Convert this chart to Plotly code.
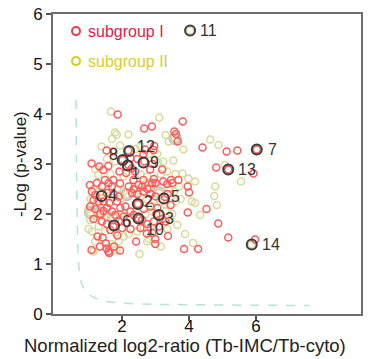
import plotly.graph_objects as go

# ---- data ----
sub1_x = [1.87,3.81,2.89,2.66,3.56,3.61,3.66,2.96,2.94,4.40,5.12,5.44,6.02,4.81,5.17,5.92,
          1.54,1.74,2.19,2.64,2.69,2.02,2.19,2.66,1.09,1.32,1.44,1.59,1.92,2.29,2.39,2.84,3.20,2.12,2.25,2.45,2.90,
          1.49,1.74,2.34,2.64,3.23,3.46,3.68,2.95,3.00,
          1.04,1.94,2.49,3.96,4.00,1.25,1.40,1.60,1.70,2.20,2.35,2.60,2.75,2.90,3.35,3.50,
          1.10,1.20,1.55,1.75,1.90,2.30,2.45,2.65,2.85,3.00,3.36,3.28,1.15,1.30,1.45,1.62,1.85,
          1.05,1.20,1.45,1.55,1.70,1.95,2.10,2.25,2.47,2.65,2.85,3.05,3.45,3.96,4.52,1.35,1.80,2.05,2.35,
          1.15,1.40,1.55,1.74,1.90,2.15,2.49,2.60,2.75,2.95,3.20,3.30,4.87,2.00,2.25,2.55,1.65,
          1.27,1.42,1.86,1.52,1.76,2.42,2.74,2.99,2.99,3.37,3.85,4.27,5.17,5.97,1.09,1.34,1.54,1.59,1.62,1.94,2.90,3.10,3.02]
sub1_y = [3.99,3.85,3.75,3.71,3.65,3.60,3.45,3.36,3.28,3.33,3.25,3.27,3.29,2.93,2.89,2.81,
          3.27,3.25,3.27,3.20,3.29,3.08,2.98,3.05,3.01,2.95,2.88,2.96,2.85,2.91,2.85,2.89,2.89,2.82,3.12,3.10,3.00,
          2.68,2.68,2.68,2.68,2.65,2.68,2.68,2.70,2.62,
          2.58,2.61,2.58,2.55,2.43,2.62,2.55,2.62,2.55,2.55,2.50,2.55,2.50,2.62,2.60,2.62,
          2.45,2.38,2.42,2.40,2.35,2.42,2.40,2.45,2.40,2.35,2.40,2.34,2.28,2.25,2.25,2.22,2.25,
          2.15,2.10,2.06,2.12,2.05,2.12,2.15,2.05,2.20,2.10,2.15,2.12,2.18,2.03,2.10,2.00,1.98,1.95,1.98,
          1.90,1.85,1.80,1.75,1.85,1.82,1.91,1.88,1.80,1.85,1.90,1.85,1.81,1.72,1.70,1.72,1.68,
          1.55,1.53,1.57,1.41,1.35,1.45,1.61,1.50,1.40,1.56,1.30,1.30,1.53,1.49,1.28,1.35,1.31,1.25,1.22,1.27,1.62,1.75,2.00]

sub2_x = [1.67,1.79,1.84,2.19,1.94,1.39,1.70,3.11,3.30,3.40,3.58,3.83,4.63,4.88,5.07,5.55,4.78,4.75,4.83,5.87,4.03,
          3.08,3.23,3.53,3.16,3.80,3.98,4.18,4.08,4.18,4.33,3.88,4.12,3.16,2.52,1.84,3.10,
          1.29,1.55,1.80,2.40,2.55,2.80,3.05,1.20,1.65,2.05,2.55,2.75,3.35,3.60,
          1.15,1.35,1.60,1.85,2.05,2.40,2.70,2.81,3.10,3.15,3.40,3.55,3.70,3.75,3.60,3.30,3.15,2.95,2.75,2.55,2.14,1.95,1.70,1.40,1.06,
          1.00,1.06,1.34,1.25,1.50,1.74,1.95,2.20,2.40,2.70,2.90,3.30,3.50,1.05,1.00,1.10,1.30,1.50,1.80,2.05,2.20,2.45,2.65,2.85,2.80,2.75,3.35,
          1.20,1.15,1.70,1.90,3.45,3.65]
sub2_y = [4.05,3.63,3.59,3.59,3.37,3.35,3.50,3.93,3.58,3.45,3.51,3.29,3.49,3.38,2.98,2.65,2.55,2.36,2.18,1.39,5.67,
          3.03,3.05,3.07,2.80,2.81,2.71,2.65,2.25,2.22,1.98,1.60,1.42,1.35,1.20,1.28,1.98,
          2.78,3.10,3.05,3.30,3.35,3.20,3.20,2.90,2.80,2.75,2.80,2.75,2.85,2.80,
          2.50,2.45,2.48,2.50,2.45,2.50,2.60,2.53,2.42,2.55,2.50,2.45,2.55,2.30,2.25,2.20,2.25,2.28,2.30,2.35,2.39,2.30,2.32,2.30,2.30,
          2.10,2.03,2.03,1.95,1.95,1.92,2.00,1.95,2.05,2.00,2.05,2.05,2.00,1.88,1.70,1.65,1.75,1.65,1.62,1.55,1.60,1.65,1.72,1.75,1.50,1.45,1.70,
          1.45,1.25,1.40,1.45,1.90,1.78]

# highlighted (grey halo) proteins
halo_x = [3.58, 2.81, 2.14, 3.10, 1.06, 1.34, 1.74]
halo_y = [3.51, 2.55, 2.39, 2.42, 2.03, 2.03, 1.92]

# numbered proteins
lab_ids = ["1", "2", "3", "4", "5", "6", "7", "8", "9", "10", "11", "12", "13", "14"]
lab_x = [2.17, 2.47, 3.10, 1.39, 3.25, 1.76, 6.02, 2.02, 2.64, 2.49, 4.03, 2.21, 5.17, 5.87]
lab_y = [2.97, 2.20, 1.98, 2.36, 2.31, 1.77, 3.29, 3.08, 3.03, 1.91, 5.67, 3.26, 2.89, 1.39]

# significance threshold curve
thr_x = [0.63, 0.64, 0.66, 0.69, 0.72, 0.80, 0.90, 1.04, 1.30, 1.55, 2.00, 2.50, 3.50, 5.00, 7.60]
thr_y = [4.28, 3.00, 2.00, 1.20, 0.90, 0.60, 0.47, 0.38, 0.29, 0.25, 0.22, 0.20, 0.19, 0.18, 0.17]

x_ticks = [2, 4, 6]
y_ticks = [0, 1, 2, 3, 4, 5, 6]

x_title = "Normalized log2-ratio (Tb-IMC/Tb-cyto)"
y_title = "-Log (p-value)"

RED = "#ff5a5a"
YEL = "#d9d99c"
DARK = "#3c3c3c"
FONT = "Liberation Sans, Arial, sans-serif"

# label offsets in pixels (style only)
lab_off = {"1": (8, -8), "2": (11, 3), "3": (11, -3), "4": (11, 1), "5": (12, 2), "6": (12, 4),
           "7": (16, 0), "8": (-9, 6), "9": (11, 0), "10": (13, -11), "11": (14, 0), "12": (13, 5),
           "13": (15, 0), "14": (15, 0)}

fig = go.Figure()
fig.add_trace(go.Scatter(x=thr_x, y=thr_y, mode="lines", line=dict(color="#b4e2da", width=1.5, dash="dash"),
                         line_shape="spline", showlegend=False, hoverinfo="skip"))
fig.add_trace(go.Scatter(x=halo_x, y=halo_y, mode="markers",
                         marker=dict(symbol="circle-open", size=11, color="#c4c4c4", line=dict(width=2.5)),
                         showlegend=False))
fig.add_trace(go.Scatter(x=sub2_x, y=sub2_y, mode="markers", name="subgroup II",
                         marker=dict(symbol="circle-open", size=7, color=YEL, line=dict(width=1.5)),
                         showlegend=False))
fig.add_trace(go.Scatter(x=sub1_x, y=sub1_y, mode="markers", name="subgroup I",
                         marker=dict(symbol="circle-open", size=7, color=RED, line=dict(width=1.5)),
                         showlegend=False))
fig.add_trace(go.Scatter(x=lab_x, y=lab_y, mode="markers",
                         marker=dict(symbol="circle-open", size=10, color=DARK, line=dict(width=2)),
                         showlegend=False))

for i, t in enumerate(lab_ids):
    dx, dy = lab_off[t]
    fig.add_annotation(x=lab_x[i], y=lab_y[i], text=t, showarrow=False, xanchor="center", yanchor="middle",
                       xshift=dx + 4 * (len(t) - 1), yshift=dy,
                       font=dict(family=FONT, size=16, color="#333333"))

# legend (drawn manually)
for yy, name, mc, tc in [(0.943, "subgroup I", "#f03a4a", "#e5194b"), (0.843, "subgroup II", "#d4d020", "#d6cf1e")]:
    fig.add_shape(type="circle", xref="paper", yref="paper", xsizemode="pixel", ysizemode="pixel",
                  xanchor=0.0747, yanchor=yy, x0=-4, x1=4, y0=-4, y1=4, line=dict(color=mc, width=2))
    fig.add_annotation(x=0.108, y=yy, xref="paper", yref="paper", text=name, showarrow=False,
                       xanchor="left", yanchor="middle", font=dict(family=FONT, size=16, color=tc))

# axis titles
fig.add_annotation(x=0.4286, y=-0.106, xref="paper", yref="paper", text=x_title, showarrow=False,
                   xanchor="center", yanchor="middle", font=dict(family=FONT, size=18.5, color="#222222"))
fig.add_annotation(x=-0.107, y=0.5, xref="paper", yref="paper", text=y_title, showarrow=False, textangle=-90,
                   xanchor="center", yanchor="middle", font=dict(family=FONT, size=17, color="#222222"))

axis_common = dict(showgrid=False, zeroline=False, showline=True, mirror=True, linecolor="#6e6e6e", linewidth=2,
                   ticks="outside", ticklen=5, tickwidth=1.5, tickcolor="#555555", automargin=False,
                   ticklabeloverflow="allow", tickfont=dict(family=FONT, size=17, color="#111111"))
fig.update_xaxes(range=[-0.06, 9.13], tickvals=x_ticks, ticktext=[str(v) for v in x_ticks],
                 ticklabelstandoff=-9, **axis_common)
fig.update_yaxes(range=[0, 6], tickvals=y_ticks, ticktext=[str(v) for v in y_ticks], **axis_common)
fig.update_layout(width=373, height=359, margin=dict(l=53, r=12, t=14, b=45, autoexpand=False),
                  plot_bgcolor="white", paper_bgcolor="white", showlegend=False)
fig.write_html("out.html", config={"displayModeBar": False},
               post_script="document.body.style.margin='0';")
